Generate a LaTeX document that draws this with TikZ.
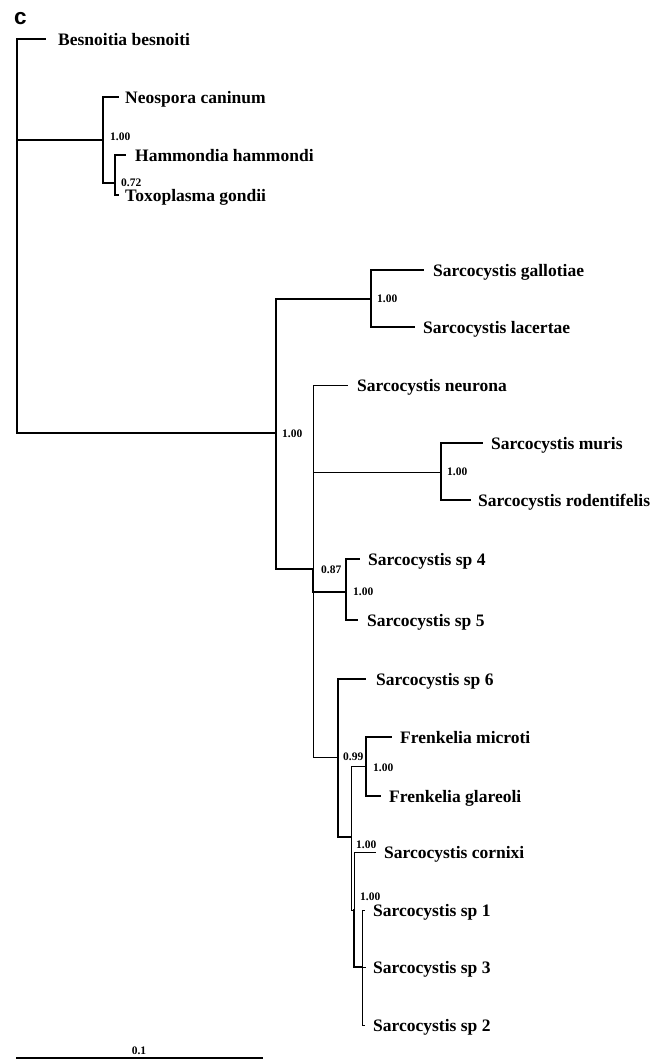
\documentclass[tikz,border=0pt]{standalone}
\usepackage{fontspec}
\setmainfont{Liberation Serif}
\newfontfamily\panelfont{Liberation Sans}
\begin{document}
\begin{tikzpicture}[x=1pt,y=-1pt,
  br/.style={line width=1.6pt,line join=miter,line cap=rect},
  thin/.style={line width=1.0pt,line join=miter,line cap=rect},
  taxon/.style={anchor=base west,inner sep=0pt,font=\fontsize{17.5}{20}\selectfont\bfseries},
  supp/.style={anchor=west,inner sep=0pt,font=\fontsize{11.5}{13}\selectfont\bfseries}]
\useasboundingbox (0,0) rectangle (656,1060);
\node[anchor=base west,inner sep=0pt,font=\fontsize{22.5}{26}\selectfont\panelfont\bfseries] (panel) at (14,24.5) {c};
% internal nodes
\coordinate (R) at (17,236);
\coordinate (T) at (103,140);
\coordinate (HT) at (115,183);
\coordinate (S) at (276,433);
\coordinate (GL) at (371,299);
\coordinate (SS) at (313,569);
\coordinate (MR) at (441,472);
\coordinate (S45) at (346,592);
\coordinate (X) at (338,757);
\coordinate (Y) at (351,837);
\coordinate (F) at (366,766);
\coordinate (Z) at (354,910);
\coordinate (W) at (362,967);
% tip branch ends
\coordinate (eBes) at (45,39);
\coordinate (eNeo) at (118,97);
\coordinate (eHam) at (125,155);
\coordinate (eTox) at (118,195);
\coordinate (eGal) at (423,270);
\coordinate (eLac) at (414,327);
\coordinate (eNeu) at (347,385);
\coordinate (eMur) at (482,443);
\coordinate (eRod) at (470,500);
\coordinate (eSp4) at (359,559);
\coordinate (eSp5) at (357,620);
\coordinate (eSp6) at (365,679);
\coordinate (eFm) at (391,737);
\coordinate (eFg) at (380,796);
\coordinate (eCor) at (375,852);
\coordinate (eSp1) at (364,910);
\coordinate (eSp3) at (365,967);
\coordinate (eSp2) at (364,1025);
% taxon names
\node[taxon] (Bes) at (58,45) {Besnoitia besnoiti};
\node[taxon] (Neo) at (125,103) {Neospora caninum};
\node[taxon] (Ham) at (135,161) {Hammondia hammondi};
\node[taxon] (Tox) at (125,201) {Toxoplasma gondii};
\node[taxon] (Gal) at (433,276) {Sarcocystis gallotiae};
\node[taxon] (Lac) at (423,333) {Sarcocystis lacertae};
\node[taxon] (Neu) at (357,391) {Sarcocystis neurona};
\node[taxon] (Mur) at (491,449) {Sarcocystis muris};
\node[taxon] (Rod) at (478,506) {Sarcocystis rodentifelis};
\node[taxon] (Sp4) at (368,565) {Sarcocystis sp 4};
\node[taxon] (Sp5) at (367,626) {Sarcocystis sp 5};
\node[taxon] (Sp6) at (376,685) {Sarcocystis sp 6};
\node[taxon] (Fm) at (400,743) {Frenkelia microti};
\node[taxon] (Fg) at (389,802) {Frenkelia glareoli};
\node[taxon] (Cor) at (384,858) {Sarcocystis cornixi};
\node[taxon] (Sp1) at (373,916) {Sarcocystis sp 1};
\node[taxon] (Sp3) at (373,973) {Sarcocystis sp 3};
\node[taxon] (Sp2) at (373,1031) {Sarcocystis sp 2};
% branches
\draw[br] (R) |- (eBes);
\draw[br] (R) |- (T);
\draw[br] (R) |- (S);
\draw[br] (T) |- (eNeo);
\draw[br] (T) |- (HT);
\draw[br] (HT) |- (eHam);
\draw[br] (HT) |- (eTox);
\draw[br] (S) |- (GL);
\draw[br] (S) |- (SS);
\draw[br] (GL) |- (eGal);
\draw[br] (GL) |- (eLac);
\draw[thin] (SS) |- (eNeu);
\draw[thin] (SS) |- (MR);
\draw[br] (SS) |- (S45);
\draw[thin] (SS) |- (X);
\draw[br] (MR) |- (eMur);
\draw[br] (MR) |- (eRod);
\draw[br] (S45) |- (eSp4);
\draw[br] (S45) |- (eSp5);
\draw[br] (X) |- (eSp6);
\draw[br] (X) |- (Y);
\draw[thin] (Y) |- (F);
\draw[thin] (Y) |- (Z);
\draw[br] (F) |- (eFm);
\draw[br] (F) |- (eFg);
\draw[thin] (Z) |- (eCor);
\draw[br] (Z) |- (W);
\draw[thin] (W) |- (eSp1);
\draw[thin] (W) |- (eSp3);
\draw[thin] (W) |- (eSp2);
% support values
\node[supp] (s1) at (110,137) {1.00};
\node[supp] (s2) at (121,183) {0.72};
\node[supp] (s3) at (377,299) {1.00};
\node[supp] (s4) at (282,434) {1.00};
\node[supp] (s5) at (447,472) {1.00};
\node[supp] (s6) at (321,570) {0.87};
\node[supp] (s7) at (353,592) {1.00};
\node[supp] (s8) at (343,757) {0.99};
\node[supp] (s9) at (373,768) {1.00};
\node[supp] (s10) at (356,845) {1.00};
\node[supp] (s11) at (360,897) {1.00};
% scale bar
\coordinate (sbL) at (16,1058);
\coordinate (sbR) at (263,1058);
\draw[line width=1.6pt] (sbL) -- (sbR);
\node[anchor=south,inner sep=0pt,font=\fontsize{11.5}{13}\selectfont\bfseries] (sblab) at (139,1055) {0.1};
\end{tikzpicture}
\end{document}
